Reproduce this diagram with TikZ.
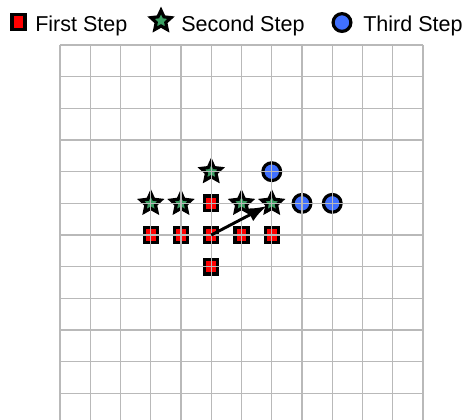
\documentclass[tikz,border=0pt]{standalone}
\usepackage{fontspec}
\setmainfont{Liberation Sans}
\usetikzlibrary{shapes.geometric,arrows.meta}

\definecolor{stepred}{RGB}{255,0,0}
\definecolor{stepgreen}{RGB}{60,160,100}
\definecolor{stepblue}{RGB}{64,112,255}

\tikzset{
  firststep/.style={rectangle,draw=black,line width=2.4pt,fill=stepred,
    minimum width=0.34cm,minimum height=0.39cm,inner sep=0pt},
  secondstep/.style={star,star points=5,star point ratio=2.1,draw=black,
    line width=2.4pt,fill=stepgreen,minimum size=0.56cm,inner sep=0pt},
  thirdstep/.style={circle,draw=black,line width=2.4pt,fill=stepblue,
    minimum size=0.47cm,inner sep=0pt},
  legendtext/.style={anchor=base west,inner sep=0pt,
    font=\fontsize{16.2}{19}\selectfont},
  gridline/.style={gray!55,line width=1pt,xstep=0.8cm,ystep=0.8375cm}
}

\begin{document}
\begin{tikzpicture}[x=0.8cm,y=0.8375cm]
\useasboundingbox (-1.983,-11.84) rectangle (13.388,1.421);

% legend
\node[firststep] (keyfirst) at (-1.372,0.726) {};
\node[legendtext] (txtfirst) at (-0.826,0.442) {First Step};
\node[secondstep] (keysecond) at (3.339,0.76) {};
\node[legendtext] (txtsecond) at (4.0,0.442) {Second Step};
\node[thirdstep] (keythird) at (9.322,0.71) {};
\node[legendtext] (txtthird) at (10.017,0.442) {Third Step};

% first step
\node[firststep] (a1) at (3,-6) {};
\node[firststep] (a2) at (4,-6) {};
\node[firststep] (a3) at (5,-6) {};
\node[firststep] (a4) at (6,-6) {};
\node[firststep] (a5) at (7,-6) {};
\node[firststep] (a6) at (5,-5) {};
\node[firststep] (a7) at (5,-7) {};

% second step
\node[secondstep] (b1) at (3,-5) {};
\node[secondstep] (b2) at (4,-5) {};
\node[secondstep] (b3) at (6,-5) {};
\node[secondstep] (b4) at (7,-5) {};
\node[secondstep] (b5) at (5,-4) {};

% third step
\node[thirdstep] (c1) at (7,-4) {};
\node[thirdstep] (c2) at (8,-5) {};
\node[thirdstep] (c3) at (9,-5) {};

\draw[gridline] (0,-11.84) grid (12,0);

\draw[-{Latex[length=0.5cm,width=0.38cm]},line width=2.2pt,shorten >=0.15cm]
  (a3.center) -- (b4.center);
\end{tikzpicture}
\end{document}
